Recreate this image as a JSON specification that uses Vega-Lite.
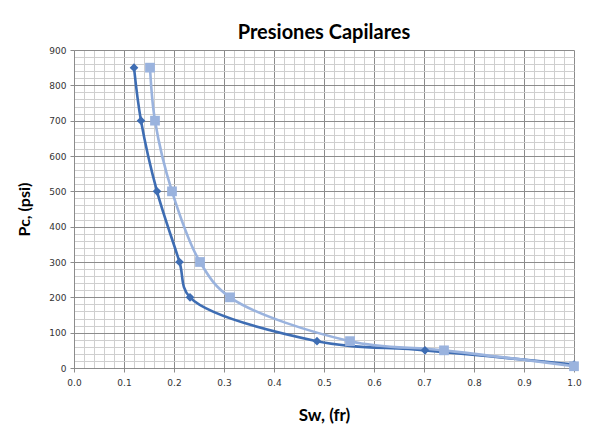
{
  "$schema": "https://vega.github.io/schema/vega-lite/v6.json",
  "width": 500,
  "height": 318,
  "autosize": "none",
  "padding": {"left": 74, "top": 50, "right": 16, "bottom": 62},
  "background": "white",
  "title": {"text": "Presiones Capilares", "font": "Lato", "fontSize": 20, "fontWeight": "bold", "color": "#000", "anchor": "middle", "offset": 3},
  "config": {"view": {"stroke": null}},
  "data": {"values": [
    {"serie": "A", "sw": 0.12, "pc": 850},
    {"serie": "A", "sw": 0.134, "pc": 700},
    {"serie": "A", "sw": 0.166, "pc": 500},
    {"serie": "A", "sw": 0.211, "pc": 300},
    {"serie": "A", "sw": 0.232, "pc": 200},
    {"serie": "A", "sw": 0.486, "pc": 76},
    {"serie": "A", "sw": 0.702, "pc": 50},
    {"serie": "A", "sw": 1.0, "pc": 10},
    {"serie": "B", "sw": 0.152, "pc": 850},
    {"serie": "B", "sw": 0.162, "pc": 700},
    {"serie": "B", "sw": 0.196, "pc": 500},
    {"serie": "B", "sw": 0.252, "pc": 300},
    {"serie": "B", "sw": 0.312, "pc": 200},
    {"serie": "B", "sw": 0.552, "pc": 76},
    {"serie": "B", "sw": 0.74, "pc": 50},
    {"serie": "B", "sw": 1.0, "pc": 5}
  ]},
  "encoding": {
    "x": {"field": "sw", "type": "quantitative",
      "scale": {"domain": [0, 1], "nice": false, "zero": true},
      "axis": {
        "title": "Sw, (fr)", "titleFont": "Lato", "titleFontSize": 17, "titleFontWeight": "bold", "titleColor": "#000", "titlePadding": 20,
        "values": [0,0.02,0.04,0.06,0.08,0.1,0.12,0.14,0.16,0.18,0.2,0.22,0.24,0.26,0.28,0.3,0.32,0.34,0.36,0.38,0.4,0.42,0.44,0.46,0.48,0.5,0.52,0.54,0.56,0.58,0.6,0.62,0.64,0.66,0.68,0.7,0.72,0.74,0.76,0.78,0.8,0.82,0.84,0.86,0.88,0.9,0.92,0.94,0.96,0.98,1.0],
        "labelExpr": "abs(round(datum.value*10) - datum.value*10) < 0.000001 ? format(datum.value, '.1f') : ''",
        "labelOverlap": false, "labelFlush": false,
        "labelFont": "DejaVu Sans", "labelFontSize": 9, "labelColor": "#333", "labelPadding": 6,
        "grid": true,
        "gridColor": {"condition": {"test": "abs(round(datum.value*10) - datum.value*10) < 0.000001", "value": "#8c8c8c"}, "value": "#cfcfcf"},
        "gridWidth": 1,
        "tickColor": "#8c8c8c",
        "tickOpacity": {"condition": {"test": "abs(round(datum.value*10) - datum.value*10) < 0.000001", "value": 1}, "value": 0},
        "tickSize": 4,
        "domainColor": "#8c8c8c"
      }},
    "y": {"field": "pc", "type": "quantitative",
      "scale": {"domain": [0, 900], "nice": false},
      "axis": {
        "title": "Pc, (psi)", "titleFont": "Lato", "titleFontSize": 16, "titleFontWeight": "bold", "titleColor": "#000", "titlePadding": 16,
        "values": [0,20,40,60,80,100,120,140,160,180,200,220,240,260,280,300,320,340,360,380,400,420,440,460,480,500,520,540,560,580,600,620,640,660,680,700,720,740,760,780,800,820,840,860,880,900],
        "labelExpr": "datum.value % 100 == 0 ? format(datum.value, 'd') : ''",
        "labelOverlap": false, "labelFlush": false,
        "labelFont": "DejaVu Sans", "labelFontSize": 9, "labelColor": "#333", "labelPadding": 4,
        "grid": true,
        "gridColor": {"condition": {"test": "datum.value % 100 == 0", "value": "#8c8c8c"}, "value": "#cfcfcf"},
        "tickColor": "#8c8c8c",
        "tickOpacity": {"condition": {"test": "datum.value % 100 == 0", "value": 1}, "value": 0},
        "tickSize": 4,
        "domainColor": "#8c8c8c"
      }},
    "color": {"field": "serie", "type": "nominal", "scale": {"domain": ["A", "B"], "range": ["#3E6DB3", "#9AB3DE"]}, "legend": null}
  },
  "layer": [
    {"mark": {"type": "line", "interpolate": "catmull-rom", "strokeWidth": 2.6}},
    {"mark": {"type": "point", "filled": true, "opacity": 1},
     "encoding": {
       "shape": {"field": "serie", "type": "nominal", "scale": {"domain": ["A", "B"], "range": ["diamond", "square"]}, "legend": null},
       "size": {"field": "serie", "type": "nominal", "scale": {"domain": ["A", "B"], "range": [75, 95]}, "legend": null}
     }}
  ]
}
